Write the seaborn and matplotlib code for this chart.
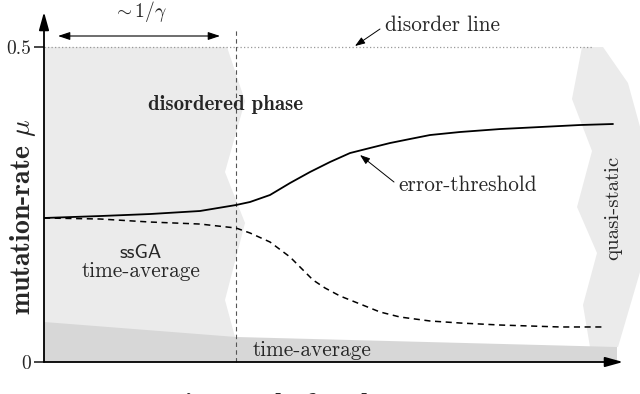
import numpy as np
import pandas as pd
import matplotlib
matplotlib.use("Agg")
import matplotlib.pyplot as plt
import seaborn as sns

# time-scale (0 = axis origin, 1 = arrow tip) and mutation-rate mu
threshold_t = [0.0, 0.0967, 0.1831, 0.2694, 0.3316, 0.3558, 0.3903, 0.4249, 0.4594,
               0.4940, 0.5285, 0.5630, 0.5976, 0.6321, 0.6667, 0.7185, 0.7876,
               0.8566, 0.9257, 0.9827]
threshold_mu = [0.2286, 0.2317, 0.2349, 0.2397, 0.2492, 0.2540, 0.2651, 0.2841, 0.3016,
                0.3175, 0.3317, 0.3397, 0.3476, 0.3540, 0.3603, 0.3651, 0.3698,
                0.3730, 0.3762, 0.3778]

ssga_t = [0.0, 0.0967, 0.1831, 0.2694, 0.3316, 0.3558, 0.3903, 0.4249, 0.4646,
          0.4853, 0.5112, 0.5458, 0.5803, 0.6149, 0.6667, 0.7185, 0.7876,
          0.8912, 0.9706]
ssga_mu = [0.2286, 0.2270, 0.2222, 0.2190, 0.2127, 0.2048, 0.1905, 0.1667, 0.1302,
           0.1175, 0.1048, 0.0921, 0.0794, 0.0714, 0.0651, 0.0619, 0.0587,
           0.0556, 0.0556]

# shaded regions
ssga_region_t = [0.0, 0.3161, 0.3472, 0.3126, 0.3472, 0.3126, 0.3299, 0.3299, 0.0]
ssga_region_mu = [0.5, 0.5, 0.4143, 0.3016, 0.2206, 0.0984, 0.0397, 0.0, 0.0]

band_t = [0.0, 0.3316, 0.9896, 0.9896, 0.0]
band_mu = [0.0635, 0.0397, 0.0238, 0.0, 0.0]

quasi_t = [0.9292, 0.9119, 0.9465, 0.9206, 0.9551, 0.9309, 0.9430,
           0.9914, 1.038, 1.038, 1.0086, 0.9655]
quasi_mu = [0.5, 0.4175, 0.3349, 0.2460, 0.1730, 0.0905, 0.0238,
            0.0238, 0.1698, 0.3444, 0.4429, 0.5]

disorder_mu = 0.5
disorder_end = 0.948
switch_t = 0.3316

sns.set_theme(style="ticks")
plt.rcParams["font.family"] = ["cmr10"]
plt.rcParams["mathtext.fontset"] = "cm"
plt.rcParams["axes.unicode_minus"] = False

fig = plt.figure(figsize=(6.4, 3.94), dpi=100)
ax = fig.add_axes([0.06875, 0.08122, 0.90469, 0.88832])
ax.set_xlim(0, 1)
ax.set_ylim(0, 0.5556)

# grauen Flächen
ax.fill(ssga_region_t, ssga_region_mu, color="#ebebeb", lw=0, zorder=0)
ax.fill(quasi_t, quasi_mu, color="#ebebeb", lw=0, zorder=0, clip_on=False)
ax.fill(band_t, band_mu, color="#d7d7d7", lw=0, zorder=1)

# Kurven
df_thr = pd.DataFrame({"t": threshold_t, "mu": threshold_mu})
df_ssga = pd.DataFrame({"t": ssga_t, "mu": ssga_mu})
sns.lineplot(data=df_thr, x="t", y="mu", ax=ax, color="black", linewidth=1.3, zorder=3)
sns.lineplot(data=df_ssga, x="t", y="mu", ax=ax, color="black", linewidth=1.1,
             linestyle=(0, (4, 3)), zorder=3)

ax.plot([0, disorder_end], [disorder_mu, disorder_mu], color="#999999", lw=0.9,
        linestyle=(0, (1, 1.8)), zorder=2)
ax.plot([switch_t, switch_t], [0, 0.530], color="#555555", lw=0.8,
        linestyle=(0, (4, 3)), zorder=2, clip_on=False)

# Achsen mit Pfeilen
for s in ax.spines.values():
    s.set_visible(False)
ax.annotate("", xy=(0, 1), xytext=(0, 0), xycoords="axes fraction",
            arrowprops=dict(arrowstyle="-|>,head_length=0.9,head_width=0.25",
                            color="black", lw=1.3, shrinkA=0, shrinkB=0),
            annotation_clip=False)
ax.annotate("", xy=(1, 0), xytext=(0, 0), xycoords="axes fraction",
            arrowprops=dict(arrowstyle="-|>,head_length=0.9,head_width=0.25",
                            color="black", lw=1.3, shrinkA=0, shrinkB=0),
            annotation_clip=False)

ax.set_xticks([])
ax.set_yticks([0, 0.5])
ax.set_yticklabels(["0", "0.5"], fontsize=14)
ax.tick_params(axis="y", direction="out", length=7, width=1.2, pad=2)
ax.set_xlabel("")
ax.set_ylabel("")

# Beschriftungen
ax.annotate("", xy=(0.304, 0.5175), xytext=(0.0242, 0.5175),
            arrowprops=dict(arrowstyle="<|-|>,head_length=0.6,head_width=0.2",
                            color="black", lw=0.8, shrinkA=0, shrinkB=0),
            annotation_clip=False)
ax.text(0.166, 0.556, r"$\sim 1/\gamma$", fontsize=14, ha="center", va="center")

ax.text(0.589, 0.535, "disorder line", fontsize=15.3, ha="left", va="center")
ax.annotate("", xy=(0.5371, 0.5016), xytext=(0.5803, 0.5286),
            arrowprops=dict(arrowstyle="-|>,head_length=0.5,head_width=0.18",
                            color="black", lw=0.7, shrinkA=0, shrinkB=0))

ax.text(0.3143, 0.408, "disordered phase", family="cmb10", fontsize=15,
        ha="center", va="center")

ax.text(0.6114, 0.281, "error-threshold", fontsize=15.3, ha="left", va="center")
ax.annotate("", xy=(0.5458, 0.3286), xytext=(0.6045, 0.2857),
            arrowprops=dict(arrowstyle="-|>,head_length=0.5,head_width=0.18",
                            color="black", lw=0.7, shrinkA=0, shrinkB=0))

ax.text(0.1675, 0.173, "ssGA", family="cmss10", fontsize=14.5, ha="center", va="center")
ax.text(0.1675, 0.1444, "time-average", fontsize=15.3, ha="center", va="center")
ax.text(0.4629, 0.019, "time-average", fontsize=15.3, ha="center", va="center", zorder=4)
ax.text(0.9827, 0.2444, "quasi-static", fontsize=15, rotation=90,
        ha="center", va="center", clip_on=False)

ax.text(-0.0363, 0.415, r"mutation-rate $\mu$", family="cmb10", fontsize=20,
        rotation=90, ha="center", va="center", transform=ax.transAxes)
ax.text(0.478, -0.084, r"time scale for changes $\tau$", family="cmb10", fontsize=20,
        ha="center", va="top", transform=ax.transAxes)

fig.savefig("out.png", dpi=100)
